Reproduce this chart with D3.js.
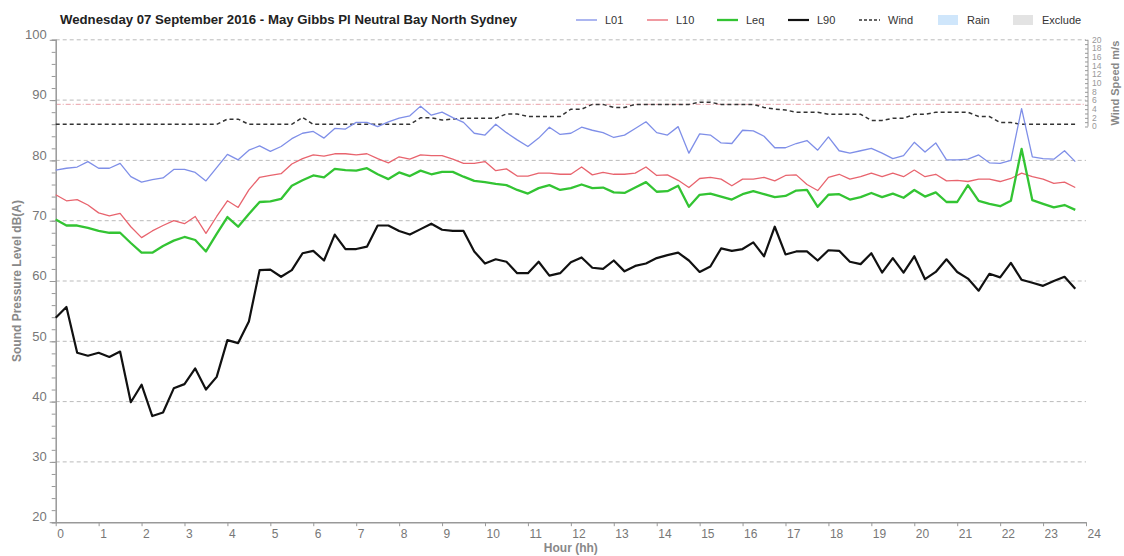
<!DOCTYPE html>
<html>
<head>
<meta charset="utf-8">
<script src="https://cdn.jsdelivr.net/npm/d3@7/dist/d3.min.js"></script>
<style>
  body { margin: 0; background: #fff; }
  svg { font-family: "Liberation Sans", Arial, sans-serif; }
  .axis path, .axis line { stroke: #999; }
  .axis text { fill: #777; }
</style>
</head>
<body>
<div id="chart"></div>
<script>
// 15 minute intervals over the day
var hours = d3.range(0, 24, 0.25);

var L01 = [78.4, 78.7, 78.9, 79.8, 78.7, 78.7, 79.5, 77.3, 76.4, 76.8, 77.1, 78.5, 78.5, 78.0, 76.6, 78.8, 81.0, 80.1, 81.7, 82.4, 81.5, 82.3, 83.6,
  84.5, 84.8, 83.7, 85.3, 85.2, 86.3, 86.3, 85.6, 86.4, 87.0, 87.4, 89.0, 87.5, 88.0, 87.1, 86.3, 84.5, 84.2, 86.0, 84.6, 83.4, 82.3, 83.7, 85.5, 84.3, 84.5, 85.5, 85.0,
  84.6, 83.8, 84.2, 85.3, 86.4, 84.6, 84.2, 85.6, 81.2, 84.4, 84.2, 82.9, 82.8, 85.0, 84.9, 84.0, 82.1, 82.1, 82.8, 83.3, 81.7, 83.9, 81.6, 81.2, 81.6,
  82.0, 81.2, 80.3, 80.8, 83.0, 81.4, 82.9, 80.1, 80.1, 80.2, 80.9, 79.6, 79.5, 80.0, 88.6, 80.6, 80.3, 80.2, 81.6, 79.8];

var L10 = [74.3, 73.3, 73.5, 72.6, 71.3, 70.8, 71.2, 69.0, 67.2, 68.3, 69.2, 70.0, 69.5, 70.7, 67.9, 70.7, 73.3, 72.2, 75.1, 77.2, 77.5, 77.8, 79.4,
  80.3, 80.9, 80.7, 81.1, 81.1, 80.9, 81.1, 80.3, 79.6, 80.6, 80.2, 80.9, 80.8, 80.8, 80.2, 79.5, 79.5, 79.8, 78.3, 78.6, 77.4, 77.4, 77.9, 77.9, 77.7, 77.7, 78.9, 77.6,
  78.0, 77.7, 77.7, 77.9, 78.9, 77.5, 77.6, 76.7, 75.5, 77.0, 77.2, 76.9, 75.8, 76.9, 76.9, 77.2, 76.6, 77.5, 77.6, 76.0, 75.0, 77.2, 77.7, 76.9, 77.3,
  77.9, 77.3, 77.9, 77.3, 78.4, 77.3, 77.7, 76.6, 76.7, 76.5, 76.9, 76.9, 76.5, 77.0, 77.9, 77.3, 76.9, 76.2, 76.4, 75.5];

var Leq = [70.2, 69.2, 69.2, 68.8, 68.3, 68.0, 68.0, 66.3, 64.7, 64.7, 65.8, 66.7, 67.3, 66.8, 64.9, 67.8, 70.6, 69.0, 71.1, 73.1, 73.2, 73.6, 75.8,
  76.7, 77.5, 77.2, 78.6, 78.4, 78.3, 78.7, 77.7, 76.9, 78.0, 77.4, 78.3, 77.7, 78.1, 78.1, 77.3, 76.6, 76.4, 76.1, 75.9, 75.1, 74.5, 75.4, 75.9, 75.1, 75.4, 76.0, 75.4,
  75.5, 74.7, 74.6, 75.5, 76.4, 74.8, 74.9, 75.8, 72.3, 74.3, 74.5, 74.0, 73.5, 74.4, 74.9, 74.4, 73.9, 74.1, 75.0, 75.1, 72.3, 74.3, 74.4, 73.5, 73.9,
  74.6, 73.9, 74.5, 73.8, 75.1, 74.0, 74.7, 73.1, 73.1, 75.9, 73.3, 72.8, 72.4, 73.3, 81.9, 73.4, 72.8, 72.2, 72.6, 71.8];

var L90 = [53.9, 55.7, 48.1, 47.6, 48.1, 47.4, 48.3, 39.9, 42.8, 37.6, 38.2, 42.2, 42.9, 45.5, 42.0, 44.1, 50.2, 49.7, 53.3, 61.8, 61.9, 60.7, 61.8,
  64.6, 65.0, 63.4, 67.7, 65.3, 65.3, 65.7, 69.2, 69.2, 68.3, 67.7, 68.6, 69.5, 68.5, 68.3, 68.3, 64.9, 62.9, 63.6, 63.2, 61.3, 61.3, 63.2, 60.9, 61.3, 63.1, 63.9, 62.2, 62.0, 63.4, 61.6, 62.5, 62.9, 63.8, 64.3, 64.7,
  63.4, 61.5, 62.4, 65.4, 65.0, 65.3, 66.4, 64.1, 69.0, 64.4, 64.9, 64.9, 63.4, 65.1, 65.0, 63.2, 62.8, 64.6, 61.4, 63.8, 61.4, 64.1, 60.3, 61.5, 63.6, 61.5, 60.4, 58.4, 61.2, 60.6, 63.0, 60.2, 59.7, 59.2, 60.0, 60.7, 58.7];

var wind = [0.5, 0.5, 0.5, 0.5, 0.5, 0.5, 0.5, 0.5, 0.5, 0.5, 0.5, 0.5, 0.5, 0.5, 0.5, 0.5,
  1.7, 1.7, 0.5, 0.5, 0.5, 0.5, 0.5, 2.1, 0.5, 0.5, 0.5, 0.5, 0.5, 0.5, 0.5, 0.5, 0.5, 0.5,
  2.0, 2.0, 1.5, 1.7, 1.9, 1.9, 1.9, 1.9, 2.9, 2.9, 2.3, 2.3, 2.3, 2.3, 4.0, 4.0,
  5.1, 5.1, 4.4, 4.4, 5.1, 5.1, 5.1, 5.1, 5.1, 5.1, 5.6, 5.6, 5.1, 5.1, 5.1, 5.1,
  4.4, 4.0, 3.8, 3.3, 3.3, 3.3, 2.8, 2.8, 2.8, 2.8, 1.4, 1.4, 1.9, 1.9, 2.8, 2.8,
  3.3, 3.3, 3.3, 3.3, 2.3, 2.3, 0.9, 0.9, 0.5, 0.5, 0.5, 0.5, 0.5, 0.5];

var criterion = 89.3;
var hourTicks = d3.range(0, 25);
var dbTicks = [20, 30, 40, 50, 60, 70, 80, 90, 100];
var windTicks = [0, 2, 4, 6, 8, 10, 12, 14, 16, 18, 20];

var series = [
  { name: "L01", values: L01, color: "#7f8fe8", width: 1.3 },
  { name: "L10", values: L10, color: "#e8646e", width: 1.3 },
  { name: "Leq", values: Leq, color: "#33c433", width: 2.3 },
  { name: "L90", values: L90, color: "#111111", width: 2.2 }
];

var width = 1124, height = 556;
var plotLeft = 55.7, plotRight = 1086, plotTop = 39.8, plotBottom = 522.2;

var svg = d3.select("#chart").append("svg")
  .attr("width", width)
  .attr("height", height);

var x = d3.scaleLinear().domain([0, 24]).range([plotLeft, plotRight]);
var y = d3.scaleLinear().domain([20, 100]).range([plotBottom, plotTop]);
var yWind = d3.scaleLinear().domain([0, 20]).range([126.5, plotTop]);

// gridlines
svg.append("g")
  .selectAll("line")
  .data(dbTicks.filter(d => d > 20))
  .enter().append("line")
  .attr("x1", plotLeft).attr("x2", plotRight)
  .attr("y1", d => y(d)).attr("y2", d => y(d))
  .style("stroke", "#bbb")
  .style("stroke-dasharray", "4,3");

// criterion line
svg.append("line")
  .attr("x1", plotLeft).attr("x2", plotRight)
  .attr("y1", y(criterion)).attr("y2", y(criterion))
  .style("stroke", "#e9a0a8")
  .style("stroke-dasharray", "5,2,1,2");

// y axis
svg.append("g")
  .attr("class", "axis")
  .attr("transform", "translate(" + plotLeft + ",0)")
  .call(d3.axisLeft(y).tickValues(d3.range(20, 101, 2)).tickSize(4).tickFormat(""))
  .call(g => g.select(".domain").style("stroke-width", 1.5));

svg.append("g")
  .attr("class", "axis")
  .attr("transform", "translate(" + plotLeft + ",0)")
  .call(d3.axisLeft(y).tickValues(dbTicks).tickSize(6).tickPadding(3))
  .call(g => g.select(".domain").remove())
  .call(g => g.selectAll("text").style("font-size", "13px").attr("dy", "-0.1em"));

// x axis
svg.append("g")
  .attr("class", "axis")
  .attr("transform", "translate(0," + plotBottom + ")")
  .call(d3.axisBottom(x).tickValues(hourTicks).tickSize(4).tickSizeOuter(0).tickPadding(3))
  .call(g => g.select(".domain").style("stroke-width", 1.5))
  .call(g => g.selectAll("text").style("font-size", "12px").attr("text-anchor", "start").attr("x", 1));

// wind axis
svg.append("g")
  .attr("class", "axis")
  .attr("transform", "translate(" + (plotRight + 2) + ",0)")
  .call(d3.axisLeft(yWind).ticks(20).tickSize(3).tickFormat(""))
  .call(g => g.select(".domain").remove());

svg.append("line")
  .attr("x1", plotRight + 2).attr("x2", plotRight + 2)
  .attr("y1", yWind(0)).attr("y2", yWind(20))
  .style("stroke", "#999");

svg.append("g")
  .selectAll("text")
  .data(windTicks)
  .enter().append("text")
  .attr("x", plotRight + 6)
  .attr("y", d => yWind(d))
  .attr("dy", "0.35em")
  .style("font-size", "8.5px")
  .style("fill", "#999")
  .text(d => d);

// axis titles
svg.append("text")
  .attr("transform", "translate(21," + ((plotTop + plotBottom) / 2) + ") rotate(-90)")
  .style("text-anchor", "middle")
  .style("font-size", "12px")
  .style("font-weight", "bold")
  .style("fill", "#888")
  .text("Sound Pressure Level dB(A)");

svg.append("text")
  .attr("x", (plotLeft + plotRight) / 2)
  .attr("y", 552)
  .style("text-anchor", "middle")
  .style("font-size", "12px")
  .style("font-weight", "bold")
  .style("fill", "#888")
  .text("Hour (hh)");

svg.append("text")
  .attr("transform", "translate(1119," + ((yWind(0) + yWind(20)) / 2) + ") rotate(-90)")
  .style("text-anchor", "middle")
  .style("font-size", "11px")
  .style("font-weight", "bold")
  .style("fill", "#888")
  .text("Wind Speed  m/s");

// title
svg.append("text")
  .attr("x", 60)
  .attr("y", 24)
  .style("font-size", "13.2px")
  .style("font-weight", "bold")
  .style("fill", "#222")
  .text("Wednesday 07 September 2016 - May Gibbs Pl Neutral Bay North Sydney");

// wind line
svg.append("path")
  .datum(wind)
  .attr("fill", "none")
  .attr("stroke", "#333")
  .attr("stroke-width", 1.5)
  .attr("stroke-dasharray", "4,3")
  .attr("d", d3.line().x((d, i) => x(hours[i])).y(d => yWind(d)));

// sound level lines
var line = d3.line()
  .x((d, i) => x(hours[i]))
  .y(d => y(d));

svg.selectAll(".series")
  .data(series)
  .enter().append("path")
  .attr("class", "series")
  .attr("fill", "none")
  .attr("stroke", d => d.color)
  .attr("stroke-width", d => d.width)
  .attr("stroke-linejoin", "round")
  .attr("d", d => line(d.values));

// legend
var legendItems = [
  { name: "L01", type: "line", color: "#7f8fe8", width: 1.3, x: 576 },
  { name: "L10", type: "line", color: "#e8646e", width: 1.3, x: 647 },
  { name: "Leq", type: "line", color: "#33c433", width: 2.3, x: 717 },
  { name: "L90", type: "line", color: "#111", width: 2.2, x: 788 },
  { name: "Wind", type: "dash", color: "#333", width: 1.3, x: 859 },
  { name: "Rain", type: "rect", color: "#cfe6fb", x: 938 },
  { name: "Exclude", type: "rect", color: "#e3e3e3", x: 1013 }
];

var legend = svg.selectAll(".legend")
  .data(legendItems)
  .enter().append("g")
  .attr("class", "legend")
  .attr("transform", d => "translate(" + d.x + ",20)");

legend.filter(d => d.type != "rect").append("line")
  .attr("x1", 0).attr("x2", 21)
  .attr("stroke", d => d.color)
  .attr("stroke-width", d => d.width)
  .attr("stroke-dasharray", d => d.type == "dash" ? "3,2" : null);

legend.filter(d => d.type == "rect").append("rect")
  .attr("x", 0).attr("y", -5)
  .attr("width", 20).attr("height", 10)
  .attr("fill", d => d.color);

legend.append("text")
  .attr("x", 29)
  .attr("dy", "0.35em")
  .style("font-size", "11px")
  .style("fill", "#333")
  .text(d => d.name);
</script>
</body>
</html>
